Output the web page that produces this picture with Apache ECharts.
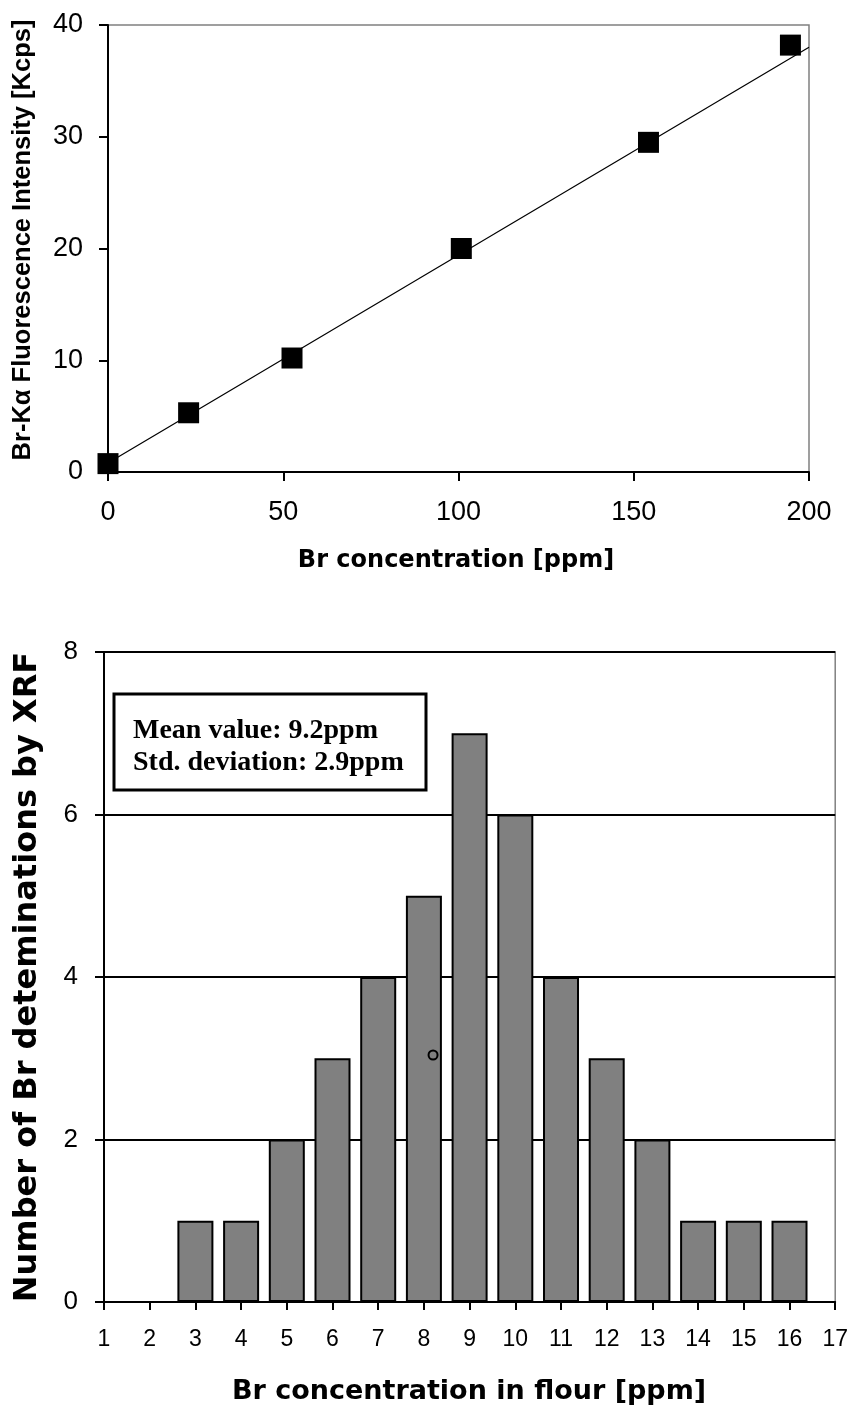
<!DOCTYPE html>
<html><head><meta charset="utf-8">
<script src="https://cdn.jsdelivr.net/npm/echarts@6/dist/echarts.min.js"></script>
<style>html,body{margin:0;padding:0;background:#fff}#c{width:851px;height:1412px}</style>
</head><body><div id="c"></div>
<script>
// Top chart: calibration
const calibX = [0, 23, 52.5, 100.8, 154.2, 194.7];
const calibY = [0.75, 5.3, 10.2, 20.0, 29.5, 38.2];
const fitX = [0, 200];
const fitY = [0.8, 38.0];
// Bottom chart: histogram
const histCats = [3, 4, 5, 6, 7, 8, 9, 10, 11, 12, 13, 14, 15, 16];
const histCounts = [1, 1, 2, 3, 4, 5, 7, 6, 4, 3, 2, 1, 1, 1];
const strayPoint = [8.2, 3.04];
const boxLines = ['Mean value: 9.2ppm', 'Std. deviation: 2.9ppm'];
const titles = {
  topX: 'Br concentration [ppm]',
  topY: 'Br-K\u03b1 Fluorescence Intensity [Kcps]',
  botX: 'Br concentration in flour [ppm]',
  botY: 'Number of Br deteminations by XRF'
};

const tickFont = 'Liberation Sans, Arial, sans-serif';
const titleFont = '"DejaVu Sans", Verdana, sans-serif';
const chart = echarts.init(document.getElementById('c'), null, {renderer: 'canvas'});
const lbl = (size, margin) => ({color: '#000', fontFamily: tickFont, fontSize: size, margin: margin});
const axLine = {show: true, lineStyle: {color: '#000', width: 2}};
const tick = len => ({show: true, length: len, lineStyle: {color: '#000', width: 2}});

chart.setOption({
  animation: false,
  backgroundColor: '#fff',
  grid: [
    {left: 108, top: 25, width: 701, height: 447, show: true, borderColor: '#808080', borderWidth: 1.5},
    {left: 104, top: 652, width: 733, height: 650, show: true, borderColor: '#808080', borderWidth: 1.5}
  ],
  xAxis: [
    {type: 'value', gridIndex: 0, min: 0, max: 200, interval: 50,
     axisLine: axLine, axisTick: tick(9), splitLine: {show: false}, axisLabel: lbl(27, 27)},
    {type: 'value', gridIndex: 1, min: 1, max: 17, interval: 1,
     axisLine: axLine, axisTick: tick(8), splitLine: {show: false}, axisLabel: lbl(23, 26)}
  ],
  yAxis: [
    {type: 'value', gridIndex: 0, min: 0, max: 40, interval: 10,
     axisLine: axLine, axisTick: tick(9), splitLine: {show: false}, axisLabel: lbl(27, 25)},
    {type: 'value', gridIndex: 1, min: 0, max: 8, interval: 2,
     axisLine: axLine, axisTick: tick(9),
     splitLine: {show: true, lineStyle: {color: '#000', width: 2}}, axisLabel: lbl(26, 26)}
  ],
  series: [
    {type: 'line', xAxisIndex: 0, yAxisIndex: 0, data: fitX.map((x, i) => [x, fitY[i]]),
     showSymbol: false, lineStyle: {color: '#000', width: 1.2}, z: 2},
    {type: 'scatter', xAxisIndex: 0, yAxisIndex: 0, data: calibX.map((x, i) => [x, calibY[i]]),
     symbol: 'rect', symbolSize: 21, itemStyle: {color: '#000', opacity: 1}, z: 3},
    {type: 'bar', xAxisIndex: 1, yAxisIndex: 1, data: histCats.map((x, i) => [x, histCounts[i]]),
     barWidth: 36, itemStyle: {color: '#808080', borderColor: '#000', borderWidth: 2, opacity: 1}, z: 3},
    {type: 'scatter', xAxisIndex: 1, yAxisIndex: 1, data: [strayPoint],
     symbol: 'circle', symbolSize: 9, itemStyle: {color: 'rgba(0,0,0,0)', borderColor: '#000', borderWidth: 2, opacity: 1}, z: 4}
  ],
  graphic: [
    {type: 'text', x: 456, y: 561, z: 11,
     style: {text: titles.topX, fill: '#000', font: 'bold 24px ' + titleFont, textAlign: 'center', textVerticalAlign: 'middle'}},
    {type: 'text', x: 23, y: 240, rotation: Math.PI / 2, z: 11,
     style: {text: titles.topY, fill: '#000', font: 'bold 25.5px "Liberation Sans", Arial, sans-serif', textAlign: 'center', textVerticalAlign: 'middle'}},
    {type: 'text', x: 469, y: 1392, z: 11,
     style: {text: titles.botX, fill: '#000', font: 'bold 27px ' + titleFont, textAlign: 'center', textVerticalAlign: 'middle'}},
    {type: 'text', x: 28, y: 977, rotation: Math.PI / 2, z: 11,
     style: {text: titles.botY, fill: '#000', font: 'bold 32px ' + titleFont, textAlign: 'center', textVerticalAlign: 'middle'}},
    {type: 'rect', x: 114, y: 694, shape: {width: 312, height: 96},
     style: {fill: '#fff', stroke: '#000', lineWidth: 3}, z: 10},
    {type: 'text', x: 133, y: 715, z: 11,
     style: {text: boxLines.join('\n'), fill: '#000', font: 'bold 28px "Liberation Serif", "DejaVu Serif", serif', lineHeight: 32, textVerticalAlign: 'top'}}
  ]
});
</script></body></html>
